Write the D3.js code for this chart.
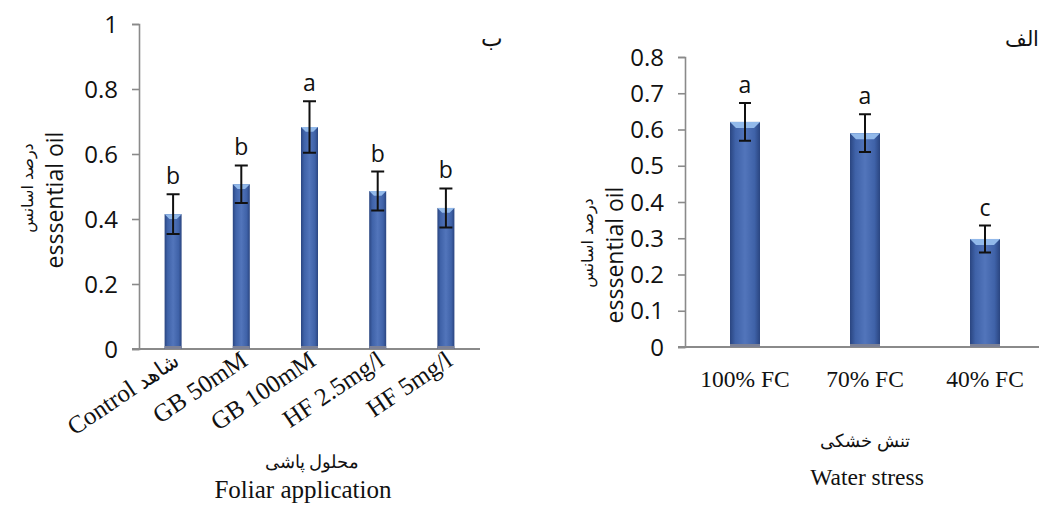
<!DOCTYPE html>
<html><head><meta charset="utf-8">
<script src="https://cdn.jsdelivr.net/npm/d3@7"></script>
<style>body{margin:0;background:#fff}svg{display:block}</style>
</head><body>
<svg id="c" width="1039" height="506"></svg>
<script>
// Panel B (left): foliar application
const foliarCats = ["Control  شاهد", "GB 50mM", "GB 100mM", "HF 2.5mg/l", "HF 5mg/l"];
const foliarVals = [0.415, 0.507, 0.683, 0.486, 0.434];
const foliarErr  = [0.061, 0.058, 0.079, 0.060, 0.060];
const foliarLetters = ["b", "b", "a", "b", "b"];
const foliarTicks = [0, 0.2, 0.4, 0.6, 0.8, 1];
// Panel A (right): water stress
const waterCats = ["100% FC", "70% FC", "40% FC"];
const waterVals = [0.621, 0.590, 0.298];
const waterErr  = [0.052, 0.052, 0.037];
const waterLetters = ["a", "a", "c"];
const waterTicks = [0, 0.1, 0.2, 0.3, 0.4, 0.5, 0.6, 0.7, 0.8];

const svg = d3.select("#c");
const defs = svg.append("defs");
const g = defs.append("linearGradient").attr("id","barg").attr("x1","0").attr("x2","1").attr("y1","0").attr("y2","0");
[["0%","#2a4580"],["18%","#3f62a8"],["50%","#5275bb"],["82%","#3f62a8"],["100%","#2a4580"]]
  .forEach(([o,c])=>g.append("stop").attr("offset",o).attr("stop-color",c));

const sansF = "'Open Sans', sans-serif";
const serifF = "'Liberation Serif', 'Times New Roman', serif";
const arabF = "'DejaVu Sans', sans-serif";
const axisCol = "#8a8a8a";

function panel(o){
  const x = d3.scaleBand().domain(o.cats).range([o.x0, o.x1]).paddingInner(0).paddingOuter(0);
  const y = d3.scaleLinear().domain([0, o.ymax]).range([o.yb, o.yt]);
  const root = svg.append("g");
  const ya = d3.axisLeft(y).tickValues(o.ticks).tickSize(7).tickPadding(14).tickFormat(d=>d3.format("")(+d.toFixed(1)));
  const yg = root.append("g").attr("transform",`translate(${o.x0},0)`).call(ya);
  yg.select(".domain").attr("stroke",axisCol).attr("stroke-width",1.6);
  yg.selectAll(".tick line").attr("stroke",axisCol).attr("stroke-width",1.6);
  yg.selectAll(".tick text").attr("font-family",sansF).attr("font-size",24).attr("fill","#111").attr("dy","0.34em");
  root.append("line").attr("x1",o.x0-7).attr("x2",o.xLineEnd).attr("y1",y(0)).attr("y2",y(0))
    .attr("stroke",axisCol).attr("stroke-width",1.8);
  const bw = o.bw;
  const cx = d => x(d)+x.bandwidth()/2;
  const data = o.cats.map((c,i)=>({c, v:o.vals[i], e:o.err[i], l:o.letters[i]}));
  const bars = root.selectAll("g.bar").data(data).join("g").attr("class","bar");
  bars.append("rect").attr("x",d=>cx(d.c)-bw/2).attr("width",bw)
    .attr("y",d=>y(d.v)).attr("height",d=>y(0)-y(d.v)).attr("fill","url(#barg)");
  bars.append("path").attr("d",d=>{
    const l=cx(d.c)-bw/2, r=cx(d.c)+bw/2, t=y(d.v), h=Math.min(6, bw*0.28);
    return `M${l},${t}L${r},${t}L${r-h},${t+h}L${l+h},${t+h}Z`;
  }).attr("fill","#92b9ea");
  bars.append("rect").attr("x",d=>cx(d.c)-bw/2).attr("width",bw).attr("y",y(0)-3).attr("height",3).attr("fill","#7c8196");
  const cap = o.cap;
  bars.append("path").attr("d",d=>{
    const X=cx(d.c), a=y(d.v+d.e), b=y(d.v-d.e);
    return `M${X},${a}V${b}M${X-cap/2},${a}H${X+cap/2}M${X-cap/2},${b}H${X+cap/2}`;
  }).attr("stroke","#111").attr("stroke-width",2).attr("fill","none");
  bars.append("text").attr("x",d=>cx(d.c)).attr("y",d=>y(d.v+d.e)-10)
    .attr("text-anchor","middle").attr("font-family",sansF).attr("font-size",23).attr("fill","#111").text(d=>d.l);
  return {x,y,root,cx};
}

const L = panel({cats:foliarCats, vals:foliarVals, err:foliarErr, letters:foliarLetters, ticks:foliarTicks,
  x0:139, x1:480, xLineEnd:480, yb:349, yt:24, ymax:1, bw:17, cap:13});
const xl = L.root.selectAll("text.xl").data(foliarCats).join("text").attr("class","xl")
  .attr("transform",d=>`translate(${L.cx(d)+8},${364}) rotate(-34)`)
  .attr("text-anchor","end").attr("font-family",serifF).attr("font-size",25).attr("fill","#111");
xl.each(function(d){
  const t = d3.select(this);
  const parts = d.split("  ");
  if(parts.length>1){
    t.append("tspan").text(parts[0]+"  ");
    t.append("tspan").attr("font-family",arabF).attr("font-size",21).attr("font-weight",300).text(parts[1]);
  } else t.text(d);
});

const R = panel({cats:waterCats, vals:waterVals, err:waterErr, letters:waterLetters, ticks:waterTicks,
  x0:685, x1:1045, xLineEnd:1039, yb:347, yt:57, ymax:0.8, bw:30, cap:12});
R.root.selectAll("text.xl").data(waterCats).join("text").attr("class","xl")
  .attr("x",d=>R.cx(d)).attr("y",387).attr("text-anchor","middle")
  .attr("font-family",serifF).attr("font-size",23.5).attr("fill","#111").text(d=>d);

function vtitle(x,y,txt,size,fam){
  svg.append("text").attr("transform",`translate(${x},${y}) rotate(-90)`).attr("text-anchor","middle")
    .attr("font-family",fam).attr("font-size",size).attr("fill","#111").text(txt);
}
vtitle(63,200,"esssential oil",23,sansF);
vtitle(33,188,"درصد اسانس",16,arabF);
vtitle(623,255,"esssential oil",23,sansF);
vtitle(593,243,"درصد اسانس",16,arabF);

function htext(x,y,txt,size,fam){
  svg.append("text").attr("x",x).attr("y",y).attr("text-anchor","middle")
    .attr("font-family",fam).attr("font-size",size).attr("fill","#111").text(txt);
}
htext(312,468,"محلول پاشی",18,serifF);
htext(303,498,"Foliar application",25,serifF);
htext(865,447,"تنش خشکی",18,serifF);
htext(867,485,"Water stress",23.5,serifF);
htext(492,46,"ب",23,serifF);
htext(1022,46,"الف",21,serifF);
</script>
</body></html>
